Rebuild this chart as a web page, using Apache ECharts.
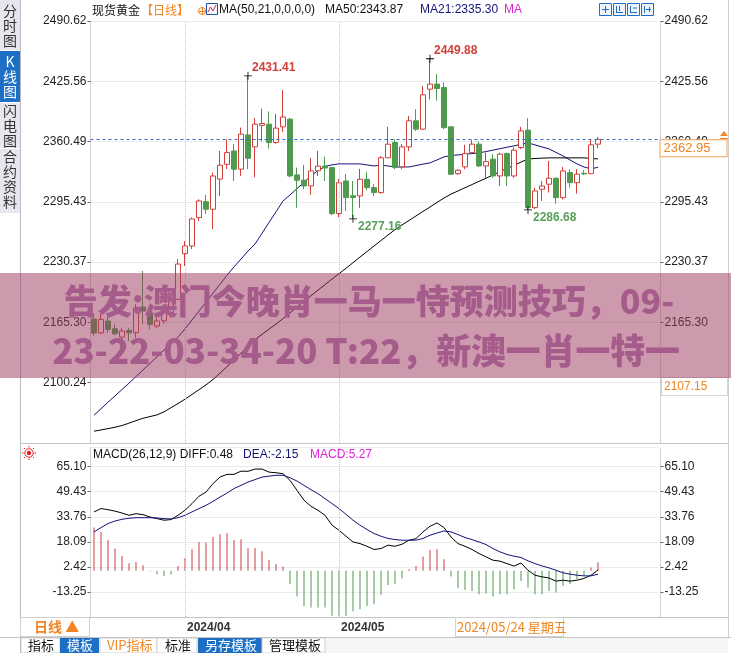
<!DOCTYPE html>
<html><head><meta charset="utf-8">
<script src="https://cdn.jsdelivr.net/npm/echarts/dist/echarts.min.js"></script>
<style>html,body{margin:0;padding:0;background:#fff}#c{width:731px;height:653px}</style>
</head><body><div id="c"></div>
<script>
// ---------- data ----------
const dates = [
 '2024/03/12','2024/03/13','2024/03/14','2024/03/15','2024/03/18','2024/03/19','2024/03/20','2024/03/21','2024/03/22','2024/03/25','2024/03/26','2024/03/27','2024/03/28',
 '2024/04/01','2024/04/02','2024/04/03','2024/04/04','2024/04/05','2024/04/08','2024/04/09','2024/04/10','2024/04/11','2024/04/12','2024/04/15','2024/04/16','2024/04/17','2024/04/18','2024/04/19','2024/04/22','2024/04/23','2024/04/24','2024/04/25','2024/04/26','2024/04/29','2024/04/30',
 '2024/05/01','2024/05/02','2024/05/03','2024/05/06','2024/05/07','2024/05/08','2024/05/09','2024/05/10','2024/05/13','2024/05/14','2024/05/15','2024/05/16','2024/05/17','2024/05/20','2024/05/21','2024/05/22','2024/05/23','2024/05/24','2024/05/27','2024/05/28','2024/05/29','2024/05/30','2024/05/31',
 '2024/06/03','2024/06/04','2024/06/05','2024/06/06','2024/06/07','2024/06/10','2024/06/11','2024/06/12','2024/06/13','2024/06/14','2024/06/17','2024/06/18','2024/06/19','2024/06/20','2024/06/21'
];
const open = [2168.9,2154.1,2166.8,2158.4,2149.5,2156.7,2154.1,2181.9,2175.7,2161.4,2167.0,2176.0,2190.2,
 2239.5,2247.8,2278.4,2295.6,2287.5,2320.0,2336.0,2350.4,2330.7,2367.7,2354.8,2378.0,2379.3,2359.4,2376.4,2384.7,2324.5,2318.8,2312.6,2329.0,2334.0,2332.4,
 2282.7,2318.0,2302.0,2301.8,2319.8,2310.8,2305.4,2343.0,2359.4,2333.2,2354.8,2382.9,2373.9,2417.1,2422.5,2418.8,2376.4,2325.9,2333.2,2348.6,2357.7,2334.2,2341.5,
 2323.4,2347.5,2323.4,2354.0,2372.8,2289.2,2309.0,2314.5,2320.9,2300.0,2327.0,2316.2,2326.2,2325.9,2357.7];
const close = [2153.8,2168.6,2157.8,2153.0,2156.0,2154.1,2181.0,2177.6,2163.2,2166.8,2176.0,2190.0,2228.3,
 2247.8,2277.0,2296.4,2287.4,2323.4,2335.0,2348.6,2330.7,2368.5,2342.5,2379.3,2380.0,2359.4,2375.0,2387.0,2323.4,2318.8,2312.6,2328.8,2334.0,2332.0,2282.7,
 2316.0,2300.0,2300.0,2319.8,2310.8,2305.4,2343.0,2357.7,2332.4,2354.8,2382.9,2373.9,2411.0,2422.5,2417.8,2375.6,2325.3,2329.6,2347.5,2357.7,2334.2,2338.9,2323.4,
 2346.9,2323.4,2351.2,2372.0,2289.2,2307.2,2312.6,2320.9,2300.0,2328.8,2316.2,2325.3,2325.6,2357.0,2362.95];
const low = [2150.5,2152.7,2154.1,2151.6,2145.1,2145.1,2148.7,2163.2,2157.8,2159.5,2164.0,2170.0,2189.5,
 2226.2,2244.5,2274.8,2282.4,2266.0,2301.8,2331.0,2318.0,2323.4,2330.7,2322.0,2361.0,2353.0,2358.0,2371.0,2322.0,2289.0,2309.0,2303.0,2323.4,2318.0,2281.0,
 2279.0,2285.6,2277.16,2289.0,2308.0,2301.8,2304.3,2342.5,2330.7,2330.7,2350.4,2372.0,2372.8,2406.0,2404.5,2373.9,2324.5,2324.5,2330.7,2346.9,2333.2,2321.6,2321.6,
 2312.6,2312.6,2321.6,2352.3,2286.68,2287.5,2296.4,2305.4,2293.5,2298.0,2310.8,2304.3,2324.5,2325.3,2353.4];
const high = [2175.4,2174.3,2174.3,2163.2,2159.5,2159.5,2185.1,2220.8,2181.1,2170.3,2182.0,2196.0,2233.7,
 2253.2,2278.4,2298.2,2302.9,2327.0,2350.4,2363.0,2358.0,2375.6,2431.41,2386.0,2396.0,2393.0,2390.4,2416.0,2386.0,2332.4,2335.3,2343.0,2350.4,2344.0,2333.0,
 2320.0,2325.6,2318.0,2331.0,2327.8,2314.5,2345.0,2376.4,2363.0,2357.7,2388.0,2395.5,2420.7,2449.88,2433.3,2424.3,2376.4,2330.7,2357.0,2362.0,2360.5,2348.6,2346.9,
 2348.6,2348.6,2354.0,2376.4,2385.8,2310.8,2318.0,2339.6,2322.0,2333.0,2330.7,2330.7,2329.6,2363.0,2365.6];
const ma21 = [2065.2,2072.1,2079.2,2086.0,2092.9,2099.7,2106.9,2114.0,2121.1,2128.3,
 2135.4,2142.4,2149.5,2158.4,2168.0,2177.5,2187.3,2197.0,2206.5,2216.1,
 2225.3,2233.7,2242.4,2249.9,2261.5,2273.2,2284.7,2296.4,2302.9,2309.8,
 2316.4,2323.4,2329.2,2333.7,2335.3,2336.4,2336.4,2336.4,2336.4,2335.3,
 2334.2,2335.0,2334.2,2333.1,2333.1,2333.1,2334.6,2336.2,2337.5,2340.7,
 2343.9,2345.5,2346.1,2346.8,2347.5,2348.3,2349.7,2351.3,2352.8,2354.4,
 2355.8,2357.7,2359.1,2356.9,2354.7,2352.6,2348.8,2345.0,2340.7,2336.4,
 2333.1,2331.0,2332.8];
const ma50 = [2047.9,2049.3,2050.7,2052.2,2054.0,2056.6,2059.3,2061.9,2063.7,2065.5,
 2068.8,2073.3,2077.7,2082.5,2087.6,2092.7,2097.9,2103.7,2110.6,2117.6,
 2124.6,2132.2,2139.7,2146.8,2152.4,2158.1,2163.5,2169.4,2175.6,2181.9,
 2188.0,2194.2,2200.2,2206.1,2212.1,2218.0,2223.7,2229.8,2235.9,2241.8,
 2247.8,2253.7,2259.7,2265.4,2270.5,2275.3,2280.2,2285.1,2289.9,2294.8,
 2299.6,2303.8,2307.2,2310.7,2314.1,2317.6,2320.9,2324.5,2328.1,2331.5,
 2334.8,2338.3,2341.8,2342.2,2342.6,2342.9,2342.9,2342.9,2342.9,2342.9,
 2342.9,2342.3,2341.8];
const diff = [36.8,38.9,38.2,37.3,36.1,34.7,35.7,35.1,33.6,32.6,
 31.6,32.0,34.7,37.8,42.0,46.6,49.2,54.5,58.6,60.3,
 60.3,62.3,62.2,63.6,63.6,61.7,61.3,60.7,56.5,50.3,
 44.1,40.3,37.8,34.7,28.5,25.3,21.6,18.0,17.0,15.3,
 13.3,13.9,16.0,15.3,16.6,19.1,20.1,24.3,27.8,29.9,
 27.0,21.1,17.0,15.3,13.3,10.8,8.7,6.6,6.0,4.5,
 2.9,4.9,0.3,-2.8,-3.8,-4.5,-6.5,-5.9,-6.5,-5.9,
 -4.8,-2.8,0.48];
const dea = [24.3,27.0,29.5,31.1,32.2,32.8,33.2,33.2,33.2,33.0,
 32.6,32.4,33.2,34.7,36.8,38.9,40.9,43.4,46.1,48.6,
 51.4,53.4,55.5,57.0,58.6,59.2,59.7,59.7,58.2,56.1,
 53.4,50.7,48.2,45.1,42.0,38.9,35.3,31.6,28.5,25.8,
 23.3,21.6,20.2,19.5,19.1,19.1,19.1,20.2,22.2,23.6,
 24.9,24.3,22.6,20.8,19.5,18.0,16.4,13.9,11.8,10.2,
 9.1,8.3,6.2,4.5,3.0,1.8,0.3,-1.3,-2.1,-2.8,
 -3.2,-3.2,-2.15];
const macdBar = [27.0,24.2,19.2,13.9,9.2,4.7,5.5,3.4,-0.3,-2.2,
 -3.2,-2.4,3.0,8.0,13.4,18.0,17.6,21.1,22.8,23.4,
 19.2,19.7,14.0,14.2,12.2,6.7,4.2,2.6,-8.4,-16.1,
 -22.0,-23.0,-23.0,-23.0,-28.2,-28.2,-28.2,-25.3,-24.0,-22.0,
 -20.9,-15.1,-8.9,-8.4,-4.9,0.9,3.0,8.9,13.0,13.4,
 7.2,-3.6,-10.9,-12.0,-12.6,-14.7,-14.2,-16.1,-14.7,-14.7,
 -11.5,-6.4,-10.5,-14.7,-14.7,-12.6,-13.6,-9.5,-8.4,-5.3,
 -3.2,2.0,5.27];
const priceTicks = ['2035.18','2100.24','2165.30','2230.37','2295.43','2360.49','2425.56','2490.62'];
const macdTicks = ['-28.92','-13.25','2.42','18.09','33.76','49.43','65.10'];
const extremes = [
  {i: 22, v: 2431.41, hi: true}, {i: 48, v: 2449.88, hi: true},
  {i: 37, v: 2277.16, hi: false}, {i: 62, v: 2286.68, hi: false}
];
const lastPrice = 2362.95;
const boxPrice = '2107.15';
const cursorDate = '2024/05/24 星期五';
const bannerLines = ['告发:澳门今晚肖一马一恃预测技巧，09-', '23-22-03-34-20 T:22，新澳一肖一特一'];

// ---------- chart ----------
const FONT = '"Liberation Sans","Noto Sans CJK SC",sans-serif';
const CJK = '"Noto Sans CJK SC","Liberation Sans",sans-serif';
const RED = '#d2403a', GREEN = '#4f9a4f', NAVY = '#14147a', ORANGE = '#f08522', MAG = '#e020d8';
const PMIN = 2035.18, PMAX = 2490.62, PINT = 65.0629;
const MMIN = -28.92, MMAX = 77.4, MINT = 15.67;
const pad = 8;
const cats = dates.concat(Array.from({length: pad}, (_, i) => 'pad' + i));
const ohlc = open.map((o, i) => [o, close[i], low[i], high[i]]);
const monthStart = (idx) => idx > 0 && idx < dates.length && dates[idx].slice(0, 7) !== dates[idx - 1].slice(0, 7);
const monthIdx = dates.map((d, i) => i).filter(i => monthStart(i) && dates[i].slice(5, 7) !== '06');

function yAx(grid, pos, min, max, interval, ticks, showMax, split) {
  return {
    type: 'value', gridIndex: grid, position: pos, min, max, interval,
    axisLine: {show: true, lineStyle: {color: '#c8c8c8', type: 'dotted'}},
    axisTick: {show: true, length: 3, lineStyle: {color: '#666'}},
    axisLabel: {show: true, color: '#222', fontSize: 12, fontFamily: FONT, margin: 4,
      showMinLabel: false, showMaxLabel: showMax, hideOverlap: false,
      formatter: v => { const k = Math.round((v - min) / interval); return ticks[k] === undefined ? '' : ticks[k]; }},
    splitLine: {show: split, lineStyle: {color: '#d6d6d6', type: 'dotted'}}
  };
}
const vLines = monthIdx.map(i => ({xAxis: dates[i], lineStyle: {color: '#c4c4c4', type: 'dotted', width: 1}, label: {show: false}}));
const cross = 'path://M0,4.5H10V5.5H0Z M4.5,0H5.5V10H4.5Z';

function T(text, x, y, fill, size, extra, z) {
  return {type: 'text', x, y, z: z || 50, silent: true,
    style: Object.assign({text, fill, fontSize: size || 12, fontFamily: FONT,
      textAlign: 'left', textVerticalAlign: 'middle', align: 'left', verticalAlign: 'middle'}, extra || {})};
}
function R(x, y, w, h, fill, stroke, z) {
  return {type: 'rect', z: z || 40, silent: true, shape: {x, y, width: w, height: h},
    style: {fill: fill || 'none', stroke: stroke || null, lineWidth: 1}};
}
function L(x1, y1, x2, y2, stroke, z) {
  return {type: 'line', z: z || 45, silent: true, shape: {x1, y1, x2, y2}, style: {stroke, lineWidth: 1}};
}
function V(text, x, y, fill) {
  return {type: 'text', x, y, z: 50, silent: true,
    style: {text, fill, fontSize: 14, fontFamily: CJK, lineHeight: 15,
      textAlign: 'center', align: 'center', textVerticalAlign: 'top', verticalAlign: 'top'}};
}
function banner(text, x, y, size) {
  return {type: 'text', x, y, z: 201, silent: true,
    style: {text, fill: '#a65c8a', fontSize: size, fontWeight: 900, fontFamily: CJK,
      textAlign: 'center', align: 'center', textVerticalAlign: 'middle', verticalAlign: 'middle'}};
}

const graphics = [
  // sidebar
  R(0, 0, 20, 637, '#ffffff', null, 30),
  R(0, 0, 20, 50, '#e6e6ee', null, 31), V('分\n时\n图', 10, 3, '#333'),
  R(0, 51, 20, 51, '#1c6fc4', null, 31), V('K\n线\n图', 10, 54, '#fff'),
  R(0, 103, 20, 45, '#e6e6ee', null, 31), V('闪\n电\n图', 10, 103, '#333'),
  R(0, 149, 20, 64, '#e6e6ee', null, 31), V('合\n约\n资\n料', 10, 149, '#333'),
  L(20.5, 0, 20.5, 653, '#bcbcc6'),
  L(728.5, 0, 728.5, 637, '#cfcfcf'),
  // panel separators
  L(20, 443.5, 728, 443.5, '#c4c4c4'),
  L(20, 617.5, 728, 617.5, '#c4c4c4'),
  L(0, 637.5, 731, 637.5, '#c4c4c4'),
  // header
  T('现货黄金', 92, 10, '#111', 12, {fontFamily: CJK}),
  T('【日线】', 141, 10, ORANGE, 12, {fontFamily: CJK}),
  {type: 'circle', z: 50, silent: true, shape: {cx: 202, cy: 11, r: 3.5}, style: {fill: 'none', stroke: ORANGE, lineWidth: 1}},
  L(198, 11.5, 206, 11.5, ORANGE, 51), L(202.5, 7, 202.5, 15, ORANGE, 51),
  R(206.5, 3.5, 11, 11, '#f4f8ff', '#1c50b0', 50),
  {type: 'polyline', z: 51, silent: true, shape: {points: [[208, 12], [210.5, 7], [213, 11], [216, 5]]}, style: {stroke: '#d03050', fill: 'none', lineWidth: 1}},
  T('MA(50,21,0,0,0,0)', 219, 10, '#111', 12),
  T('MA50:2343.87', 325, 10, '#111', 12),
  T('MA21:2335.30', 420, 10, NAVY, 12),
  T('MA', 504, 10, MAG, 12),
  R(599.5, 3.5, 12, 12, '#eef4fc', '#1c6fc4', 50), R(613.5, 3.5, 12, 12, '#eef4fc', '#1c6fc4', 50),
  R(627.5, 3.5, 12, 12, '#eef4fc', '#1c6fc4', 50), R(641.5, 3.5, 12, 12, '#eef4fc', '#1c6fc4', 50),
  L(602, 9.5, 609, 9.5, '#1c6fc4', 51), L(605.5, 6, 605.5, 13, '#1c6fc4', 51),
  L(616.5, 6, 616.5, 13, '#1c6fc4', 51), L(616, 12.5, 623, 12.5, '#1c6fc4', 51), L(619.5, 6, 619.5, 11, '#1c6fc4', 51),
  L(630.5, 6, 630.5, 13, '#1c6fc4', 51), L(630, 12.5, 637, 12.5, '#1c6fc4', 51), L(633, 8, 637, 8, '#1c6fc4', 51),
  L(644.5, 6, 644.5, 13, '#1c6fc4', 51), L(646, 9.5, 651, 9.5, '#1c6fc4', 51), L(649.5, 7, 649.5, 12, '#1c6fc4', 51),
  // orange price icon
  {type: 'polygon', z: 51, silent: true, shape: {points: [[724, 131], [728, 136], [720, 136]]}, style: {fill: ORANGE}},
  L(720, 138.5, 728, 138.5, ORANGE, 51),
  // 2107.15 box
  R(661.5, 377.5, 66, 18, '#ffffff', '#d4d4d4', 60), T(boxPrice, 664, 386.5, ORANGE, 12, null, 61),
  // MACD header
  {type: 'circle', z: 50, silent: true, shape: {cx: 29, cy: 453, r: 2.2}, style: {fill: '#e02020'}},
  {type: 'circle', z: 50, silent: true, shape: {cx: 29, cy: 453, r: 4.2}, style: {fill: 'none', stroke: '#e02020', lineWidth: 1}},
  L(29, 446, 29, 447.5, '#e02020'), L(29, 458.5, 29, 460, '#e02020'), L(22, 453, 23.5, 453, '#e02020'), L(34.5, 453, 36, 453, '#e02020'),
  L(24, 448, 25, 449, '#e02020'), L(33, 457, 34, 458, '#e02020'), L(34, 448, 33, 449, '#e02020'), L(24, 458, 25, 457, '#e02020'),
  T('MACD(26,12,9) DIFF:0.48', 93, 455, '#111', 12),
  T('DEA:-2.15', 243, 455, NAVY, 12),
  T('MACD:5.27', 310, 455, MAG, 12),
  // bottom-left "日线" box and cursor date box
  R(20.5, 617.5, 69, 19, '#ffffff', '#d0d0d0', 60),
  T('日线 ▲', 34, 627, ORANGE, 14, {fontFamily: CJK, fontWeight: 'bold'}, 61),
  R(455.5, 617.5, 108, 19, '#ffffff', '#d0d0d0', 60),
  T(cursorDate, 457, 627, ORANGE, 13, {fontFamily: CJK}, 61),
  // bottom tabs
  R(21, 638, 707, 15, '#f6f6f6', null, 40),
  R(21, 638, 39, 15, '#ffffff', '#cfcfcf', 41), T('指标', 28, 645.5, '#111', 13, {fontFamily: CJK}),
  R(60, 638, 39, 15, '#1c6fc4', null, 41), T('模板', 67, 645.5, '#fff', 13, {fontFamily: CJK}),
  R(100, 638, 57, 15, '#ffffff', '#cfcfcf', 41), T('VIP指标', 107, 645.5, ORANGE, 13, {fontFamily: CJK}),
  R(157, 638, 40, 15, '#ffffff', '#cfcfcf', 41), T('标准', 165, 645.5, '#111', 13, {fontFamily: CJK}),
  R(198, 638, 64, 15, '#1c6fc4', null, 41), T('另存模板', 205, 645.5, '#fff', 13, {fontFamily: CJK}),
  R(262, 638, 63, 15, '#ffffff', '#cfcfcf', 41), T('管理模板', 269, 645.5, '#111', 13, {fontFamily: CJK}),
  // banner overlay
  R(0, 273, 731, 105, 'rgba(160,60,95,0.52)', null, 200),
  banner(bannerLines[0], 369, 301, 34),
  banner(bannerLines[1], 366, 351, 34.8)
];

const chart = echarts.init(document.getElementById('c'), null, {renderer: 'canvas'});
chart.setOption({
  animation: false,
  backgroundColor: '#ffffff',
  grid: [
    {left: 90.5, top: 21, width: 567, height: 422, containLabel: false, outerBoundsMode: 'none'},
    {left: 90.5, top: 447, width: 567, height: 170, containLabel: false, outerBoundsMode: 'none'}
  ],
  xAxis: [
    {type: 'category', gridIndex: 0, data: cats, boundaryGap: true, axisLine: {show: false}, axisTick: {show: false}, axisLabel: {show: false}, splitLine: {show: false}},
    {type: 'category', gridIndex: 1, data: cats, boundaryGap: true, axisLine: {show: false}, axisTick: {show: false}, splitLine: {show: false},
     axisLabel: {show: true, interval: (i) => monthStart(i), formatter: v => v.slice(0, 7), align: 'left', padding: [0, 0, 0, 2],
       color: '#333', fontWeight: 'bold', fontSize: 12, fontFamily: FONT, margin: 5}}
  ],
  yAxis: [
    yAx(0, 'left', PMIN, PMAX, PINT, priceTicks, true, true),
    Object.assign(yAx(0, 'right', PMIN, PMAX, PINT, priceTicks, true, false), {offset: 3}),
    yAx(1, 'left', MMIN, MMAX, MINT, macdTicks, false, true),
    Object.assign(yAx(1, 'right', MMIN, MMAX, MINT, macdTicks, false, false), {offset: 3})
  ],
  series: [
    {type: 'candlestick', xAxisIndex: 0, yAxisIndex: 0, data: ohlc, barWidth: 5, z: 3,
     itemStyle: {color: '#ffffff', color0: GREEN, borderColor: RED, borderColor0: GREEN, borderWidth: 1},
     markLine: {symbol: ['none', 'none'], silent: true, animation: false,
       data: [
         {yAxis: lastPrice, lineStyle: {color: '#2a70cc', type: [3, 3], width: 1},
          label: {show: true, position: 'end', distance: 3, offset: [0, 9], formatter: lastPrice.toFixed(2),
            color: ORANGE, fontSize: 13, fontFamily: FONT, backgroundColor: '#ffffff', borderColor: '#f0a050', borderWidth: 1, padding: [2, 16, 1, 3]}}
       ].concat(vLines)},
     markPoint: {symbol: cross, symbolSize: 8, silent: true, animation: false, itemStyle: {color: '#000'},
       data: extremes.map(e => ({coord: [dates[e.i], e.v], value: e.v,
         label: {show: true, position: 'right', distance: 0, offset: e.hi ? [0, -8] : [1, 8], formatter: e.v.toFixed(2),
           color: e.hi ? RED : '#5a9e5a', fontWeight: 'bold', fontSize: 12, fontFamily: FONT}}))}
    },
    {type: 'line', name: 'MA21', xAxisIndex: 0, yAxisIndex: 0, data: ma21, showSymbol: false, symbol: 'none', z: 2, lineStyle: {color: NAVY, width: 1}},
    {type: 'line', name: 'MA50', xAxisIndex: 0, yAxisIndex: 0, data: ma50, showSymbol: false, symbol: 'none', z: 2, lineStyle: {color: '#000', width: 1}},
    {type: 'bar', xAxisIndex: 1, yAxisIndex: 2, data: macdBar, barWidth: 1,
     itemStyle: {color: p => p.value >= 0 ? '#c84040' : '#4f9a4f'},
     markLine: {symbol: ['none', 'none'], silent: true, animation: false, data: vLines}},
    {type: 'line', name: 'DIFF', xAxisIndex: 1, yAxisIndex: 2, data: diff, showSymbol: false, symbol: 'none', lineStyle: {color: '#000', width: 1}},
    {type: 'line', name: 'DEA', xAxisIndex: 1, yAxisIndex: 2, data: dea, showSymbol: false, symbol: 'none', lineStyle: {color: NAVY, width: 1}}
  ],
  graphic: {elements: graphics}
});
</script>
</body></html>
